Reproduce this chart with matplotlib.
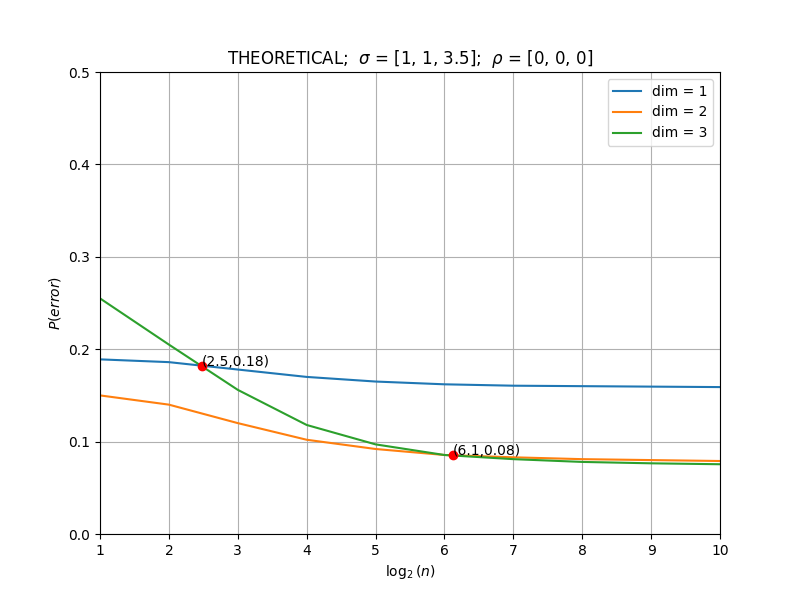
import matplotlib
matplotlib.use("Agg")
import matplotlib.pyplot as plt

log2_n = [1, 2, 3, 4, 5, 6, 7, 8, 9, 10]
err_dim1 = [0.189, 0.186, 0.178, 0.170, 0.165, 0.162, 0.1605, 0.160, 0.1595, 0.159]
err_dim2 = [0.150, 0.140, 0.120, 0.102, 0.092, 0.0855, 0.083, 0.081, 0.080, 0.079]
err_dim3 = [0.255, 0.205, 0.156, 0.118, 0.097, 0.0855, 0.081, 0.078, 0.0765, 0.0755]
labels = ["dim = 1", "dim = 2", "dim = 3"]

cross_x = [2.48, 6.12]
cross_y = [0.182, 0.0855]
cross_text = ["(2.5,0.18)", "(6.1,0.08)"]

fig, ax = plt.subplots(figsize=(8, 6), dpi=100)
for series, label in zip([err_dim1, err_dim2, err_dim3], labels):
    ax.plot(log2_n, series, label=label)

ax.plot(cross_x, cross_y, "ro")
for x, y, t in zip(cross_x, cross_y, cross_text):
    ax.text(x, y, t)

ax.set_xlim(1, 10)
ax.set_ylim(0, 0.5)
ax.set_xlabel(r"$\log_2(n)$")
ax.set_ylabel(r"$P(error)$")
ax.set_title(r"THEORETICAL;  $\sigma$ = [1, 1, 3.5];  $\rho$ = [0, 0, 0]")
ax.grid(True)
ax.legend(loc="upper right")

fig.savefig("out.png")
